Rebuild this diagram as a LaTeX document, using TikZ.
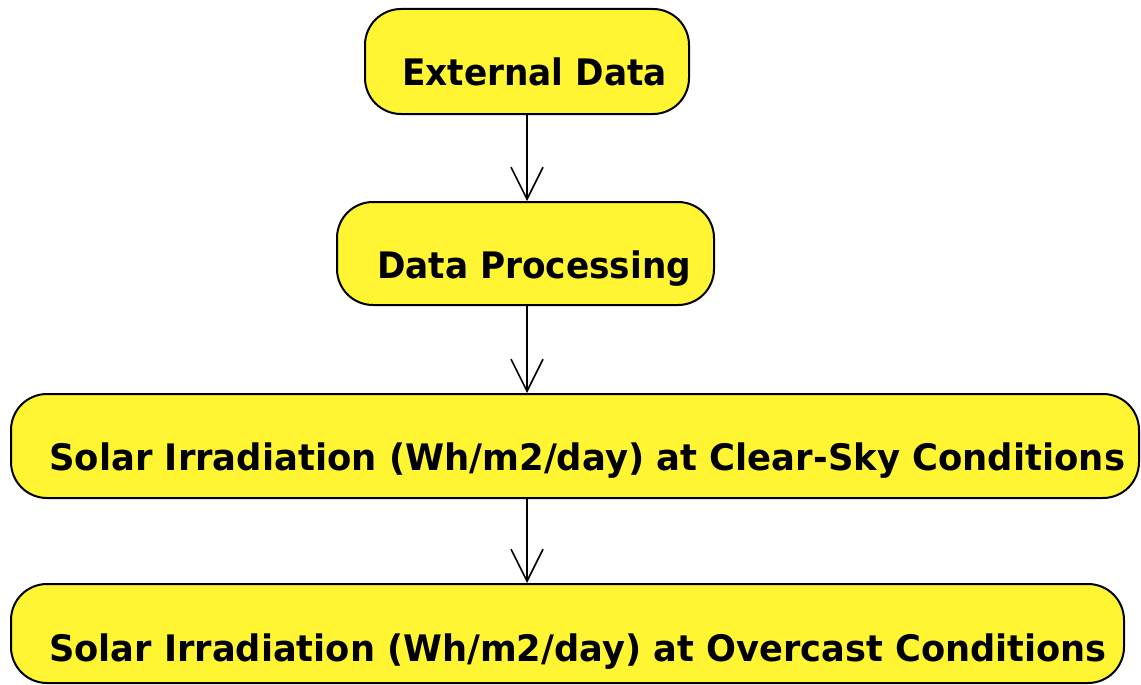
\documentclass[tikz,border=0pt]{standalone}
\usepackage{fontspec}
\setmainfont{DejaVu Sans}
\usetikzlibrary{arrows.meta}
\definecolor{boxyellow}{RGB}{255,245,51}
\newcommand{\squeeze}[1]{\addfontfeature{FakeStretch=#1}}
\tikzset{
  actbox/.style={draw=black, line width=2pt, fill=boxyellow, rounded corners=36pt,
    inner sep=0pt, anchor=north west},
  acttext/.style={anchor=base west, inner sep=0pt, font=\fontsize{36.5}{40}\selectfont\bfseries},
  flow/.style={draw=black, line width=1.6pt, -{Straight Barb[length=32pt,width=32pt,line width=1.6pt]}}
}
\begin{document}
\begin{tikzpicture}[x=1pt,y=-1pt]
\useasboundingbox (0,0) rectangle (1141,685);
\node[actbox, minimum width=324pt, minimum height=105pt] (ext) at (364,8) {};
\node[actbox, minimum width=377pt, minimum height=103pt] (proc) at (336,201) {};
\node[actbox, minimum width=1128pt, minimum height=104pt] (clear) at (10,393) {};
\node[actbox, minimum width=1113pt, minimum height=99pt] (over) at (10,583) {};
\node[acttext] (extT) at (402,85) {\squeeze{0.94}External Data};
\node[acttext] (procT) at (377,278) {\squeeze{0.94}Data Processing};
\node[acttext] (clearT) at (49,470) {\squeeze{0.97}Solar Irradiation (Wh/m2/day) at Clear-Sky Conditions};
\node[acttext] (overT) at (49,661) {\squeeze{0.965}Solar Irradiation (Wh/m2/day) at Overcast Conditions};
\coordinate (ax) at (527,0);
\draw[flow] (ext.south -| ax) -- (proc.north -| ax);
\draw[flow] (proc.south -| ax) -- (clear.north -| ax);
\draw[flow] (clear.south -| ax) -- (over.north -| ax);
\end{tikzpicture}
\end{document}
